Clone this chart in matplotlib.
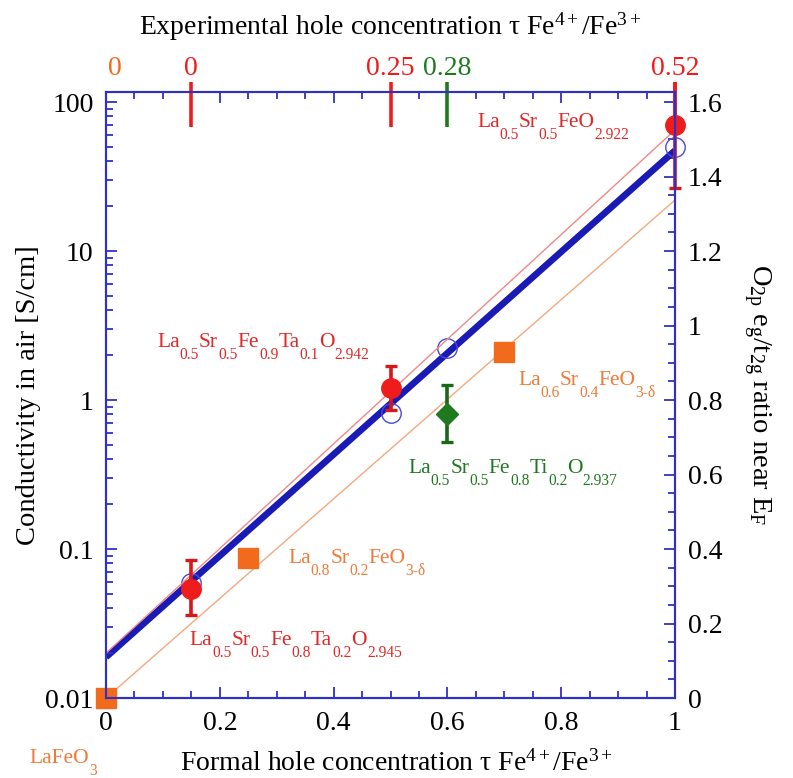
import matplotlib
matplotlib.use('Agg')
import numpy as np
import matplotlib.pyplot as plt
from matplotlib.ticker import MultipleLocator, LogLocator, NullFormatter
from matplotlib.transforms import offset_copy, blended_transform_factory

plt.rcParams['font.family'] = ['Liberation Serif', 'DejaVu Serif']
plt.rcParams['mathtext.fontset'] = 'custom'
plt.rcParams['mathtext.rm'] = 'Liberation Serif'
plt.rcParams['mathtext.it'] = 'Liberation Serif:italic'
plt.rcParams['mathtext.default'] = 'regular'

#-----------------------------------------------------------------------------
## Data
#-----------------------------------------------------------------------------
# red: La0.5Sr0.5Fe(Ta)O samples, conductivity with error bars
tau_red = [0.15, 0.5, 1.0]
sig_red = [0.054, 1.2, 70.0]
sig_red_lo = [0.036, 0.86, 26.5]
sig_red_hi = [0.085, 1.7, 136.0]
# green: La0.5Sr0.5Fe0.8Ti0.2O2.937
tau_green = [0.6]
sig_green = [0.80]
sig_green_lo = [0.52]
sig_green_hi = [1.26]
# orange: La(1-x)SrxFeO3-d series
tau_orange = [0.0, 0.25, 0.7]
sig_orange = [0.01, 0.087, 2.1]
# blue: calculated O2p eg/t2g ratio (right axis)
tau_calc = [0.15, 0.5, 0.6, 1.0]
ratio_calc = [0.31, 0.765, 0.94, 1.48]
# straight guide lines
fit_tau = [0.0, 1.0]
fit_ratio = [0.11, 1.47]
fit_red = [0.02, 65.0]
fit_orange = [0.01, 22.0]
# experimental hole concentration (top)
top_pos = [0.015, 0.15, 0.5, 0.6, 1.0]
top_lab = ['0', '0', '0.25', '0.28', '0.52']

#-----------------------------------------------------------------------------
## Colours
#-----------------------------------------------------------------------------
c_red = '#ee1c1c'
c_red_txt = '#e02828'
c_green = '#1f7a1f'
c_orange = '#f26a1b'
c_orange_txt = '#f07a38'
c_blue = '#1a1ab4'
c_axis = '#3030c8'
top_col = [c_orange, c_red, c_red, c_green, c_red]

fig = plt.figure(figsize=(7.93, 7.78), dpi=100)
ax = fig.add_axes([0.1337, 0.1028, 0.7175, 0.7789])
ax2 = ax.twinx()
ax.set_zorder(ax2.get_zorder() + 1)
ax.patch.set_visible(False)
ytop = 116.7

#-----------------------------------------------------------------------------
## Right axis: calculated ratio
#-----------------------------------------------------------------------------
ax2.plot(fit_tau, fit_ratio, color=c_blue, lw=4.8, solid_capstyle='butt')
ax2.plot(tau_calc, ratio_calc, 'o', ms=14, mfc='none', mec='#4a4ad8', mew=1.0, clip_on=False)
ax2.set_ylim(0, 1.627)
ax2.yaxis.set_minor_locator(MultipleLocator(0.05))
ax2.set_yticks(np.arange(0, 1.61, 0.2))
ax2.set_yticklabels(['0', '0.2', '0.4', '0.6', '0.8', '1', '1.2', '1.4', '1.6'])

#-----------------------------------------------------------------------------
## Left axis: conductivity
#-----------------------------------------------------------------------------
ax.plot(fit_tau, fit_orange, color='#f3a87e', lw=1.0)
ax.plot(fit_tau, fit_red, color='#f08888', lw=1.0)

# red error bars: no cap where the bar runs out of the frame
ax.vlines(tau_red, sig_red_lo, sig_red_hi, color='#d81818', lw=2.6, clip_on=False)
ax.plot(tau_red, sig_red_lo, '_', color='#d81818', ms=8.6, mew=2.4, clip_on=False)
hi_in = [(t, h) for t, h in zip(tau_red, sig_red_hi) if h < ytop]
ax.plot([t for t, h in hi_in], [h for t, h in hi_in], '_', color='#d81818', ms=8.6, mew=2.4)
ax.plot(tau_red, sig_red, 'o', color=c_red, ms=14, clip_on=False)

green_err = [np.array(sig_green) - np.array(sig_green_lo), np.array(sig_green_hi) - np.array(sig_green)]
ax.errorbar(tau_green, sig_green, yerr=green_err, fmt='none', ecolor='#186818',
            elinewidth=2.6, capsize=4.3, capthick=2.4)
ax.plot(tau_green, sig_green, 'D', color=c_green, ms=11)

ax.plot(tau_orange, sig_orange, 's', color=c_orange, ms=14, clip_on=False)

ax.set_yscale('log')
ax.set_ylim(0.01, ytop)
ax.set_xlim(0, 1)
ax.set_yticks([0.01, 0.1, 1, 10, 100])
ax.set_yticklabels(['0.01', '0.1', '1', '10', '100'])
ax.yaxis.set_minor_locator(LogLocator(base=10, subs=np.arange(2, 10)))
ax.yaxis.set_minor_formatter(NullFormatter())
ax.xaxis.set_minor_locator(MultipleLocator(0.05))
ax.set_xticks([0, 0.2, 0.4, 0.6, 0.8, 1])
ax.set_xticklabels(['0', '0.2', '0.4', '0.6', '0.8', '1'])

#-----------------------------------------------------------------------------
## Frame and ticks
#-----------------------------------------------------------------------------
for a in (ax, ax2):
    for s in a.spines.values():
        s.set_color(c_axis)
        s.set_linewidth(1.5)
ax.tick_params(axis='both', which='both', direction='in', color=c_axis, width=1.3,
               labelsize=20, pad=9, top=True, right=False)
ax.tick_params(axis='both', which='major', length=8)
ax.tick_params(axis='both', which='minor', length=5)
ax2.tick_params(axis='y', which='both', direction='in', color=c_axis, width=1.3,
                labelsize=20, pad=9)
ax2.tick_params(axis='y', which='major', length=8)
ax2.tick_params(axis='y', which='minor', length=5)

# top markers for experimental hole concentration
tr_top = blended_transform_factory(ax.transData, ax.transAxes)
for p, l, c in zip(top_pos, top_lab, top_col):
    if c != c_orange:
        ax.plot([p, p], [0.942, 1.0165], color=c, lw=2.6, transform=tr_top,
                clip_on=False, solid_capstyle='butt')
    ax.text(p, 1.028, l, color=c, fontsize=20, ha='center', va='baseline', transform=tr_top)

#-----------------------------------------------------------------------------
## Axis titles
#-----------------------------------------------------------------------------
ax.text(0.5, 1.094, r'Experimental hole concentration τ Fe$^{4+}$/Fe$^{3+}$', fontsize=20,
        ha='center', va='baseline', transform=ax.transAxes)
ax.text(0.51, -0.119, r'Formal hole concentration τ Fe$^{4+}$/Fe$^{3+}$', fontsize=20,
        ha='center', va='baseline', transform=ax.transAxes)
ax.text(-0.137, 0.5, 'Conductivity in air [S/cm]', fontsize=20.5, rotation=90,
        ha='center', va='center', transform=ax.transAxes)
ax.text(1.144, 0.5, r'O$_{2p}$ e$_g$/t$_{2g}$ ratio near E$_F$', fontsize=20.5, rotation=270,
        ha='center', va='center', transform=ax.transAxes)

#-----------------------------------------------------------------------------
## Compound labels with deep subscripts
#-----------------------------------------------------------------------------
renderer = fig.canvas.get_renderer()

def formula(x, y, parts, color, size=15.5, drop=12):
    dx = 0
    for main, sub in parts:
        for s, fs, dy in ((main, size, 0), (sub, size * 0.72, -drop)):
            tr = offset_copy(ax.transAxes, fig=fig, x=dx, y=dy, units='dots')
            t = ax.text(x, y, s, transform=tr, fontsize=fs, color=color,
                        ha='left', va='baseline', clip_on=False)
            dx += t.get_window_extent(renderer).width

formula(0.652, 0.942, [('La', '0.5'), ('Sr', '0.5'), ('FeO', '2.922')], c_red_txt)
formula(0.0896, 0.579, [('La', '0.5'), ('Sr', '0.5'), ('Fe', '0.9'), ('Ta', '0.1'), ('O', '2.942')], c_red_txt)
formula(0.724, 0.516, [('La', '0.6'), ('Sr', '0.4'), ('FeO', '3-δ')], c_orange_txt)
formula(0.531, 0.371, [('La', '0.5'), ('Sr', '0.5'), ('Fe', '0.8'), ('Ti', '0.2'), ('O', '2.937')], c_green)
formula(0.32, 0.223, [('La', '0.8'), ('Sr', '0.2'), ('FeO', '3-δ')], c_orange_txt)
formula(0.147, 0.0875, [('La', '0.5'), ('Sr', '0.5'), ('Fe', '0.8'), ('Ta', '0.2'), ('O', '2.945')], c_red_txt)
formula(-0.134, -0.107, [('LaFeO', '3')], c_orange_txt)

fig.savefig('out.png', dpi=100, facecolor='w')
